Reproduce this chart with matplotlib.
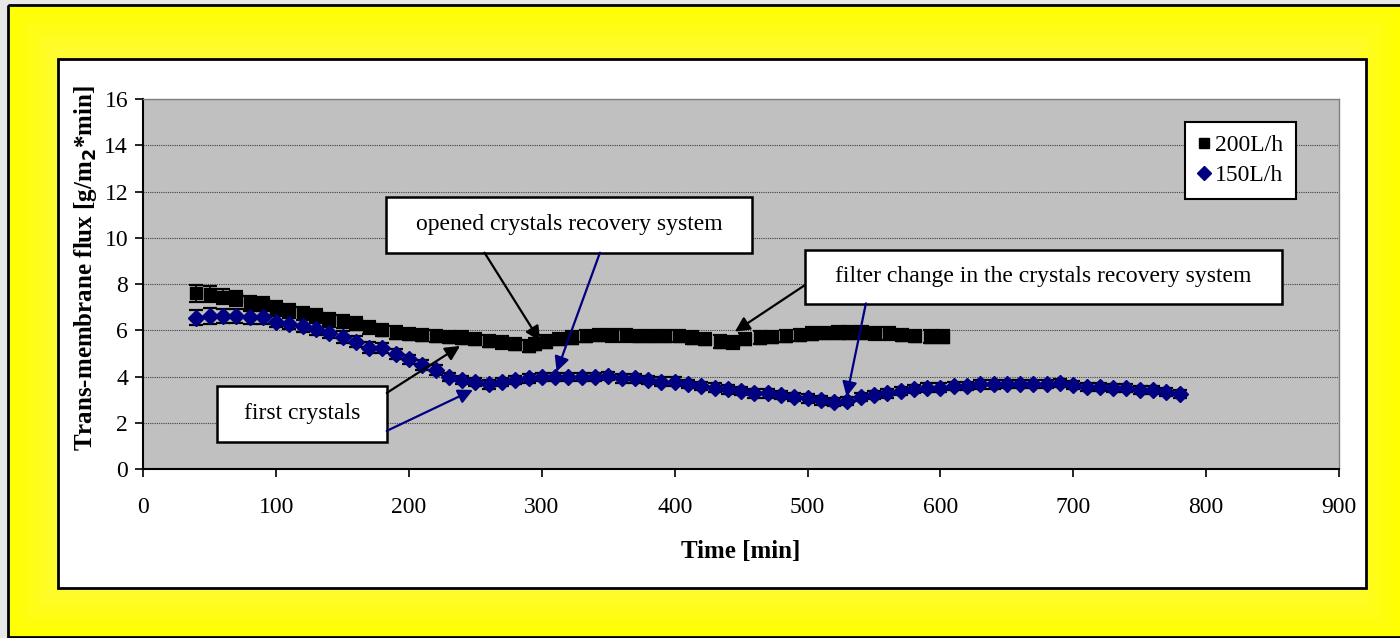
import numpy as np
import matplotlib
matplotlib.use("Agg")
import matplotlib.pyplot as plt
from matplotlib.patches import Rectangle
from matplotlib.lines import Line2D

plt.rcParams["font.family"] = ["Liberation Serif", "DejaVu Serif"]

# 200 L/h series
time_200 = [40, 50, 60, 70, 80, 90, 100, 110, 120, 130, 140, 150, 160, 170, 180,
            190, 200, 210, 220, 230, 240, 250, 260, 270, 280, 290, 295, 303, 313,
            323, 333, 343, 353, 363, 373, 383, 393, 403, 413, 423, 434, 444, 453,
            464, 473, 484, 494, 503, 513, 523, 531, 541, 551, 561, 571, 581, 592, 602]
flux_200 = [7.60, 7.59, 7.46, 7.39, 7.21, 7.14, 6.97, 6.85, 6.74, 6.63, 6.49, 6.39,
            6.30, 6.13, 6.03, 5.91, 5.84, 5.81, 5.77, 5.72, 5.69, 5.62, 5.55, 5.48,
            5.41, 5.33, 5.42, 5.52, 5.62, 5.69, 5.77, 5.81, 5.79, 5.79, 5.77, 5.77,
            5.77, 5.77, 5.69, 5.62, 5.52, 5.48, 5.62, 5.69, 5.72, 5.77, 5.81, 5.86,
            5.90, 5.91, 5.91, 5.91, 5.87, 5.87, 5.81, 5.77, 5.73, 5.73]
err_200 = [0.38, 0.35, 0.33, 0.33, 0.30, 0.30, 0.30, 0.28, 0.28, 0.28, 0.27, 0.27,
           0.27, 0.27, 0.27, 0.27, 0.27, 0.27, 0.27, 0.27, 0.27, 0.27, 0.27, 0.27,
           0.27, 0.27, 0.27, 0.27, 0.27, 0.27, 0.27, 0.27, 0.27, 0.27, 0.27, 0.27,
           0.27, 0.27, 0.27, 0.27, 0.27, 0.30, 0.27, 0.27, 0.27, 0.27, 0.27, 0.27,
           0.27, 0.27, 0.27, 0.27, 0.27, 0.27, 0.27, 0.27, 0.27, 0.27]

# 150 L/h series
time_150 = [40, 50, 60, 70, 80, 90, 100, 110, 120, 130, 140, 150, 160, 170, 180,
            190, 200, 210, 220, 230, 240, 250, 260, 270, 280, 290, 300, 310, 320,
            330, 340, 350, 360, 370, 380, 390, 400, 410, 420, 430, 440, 450, 460,
            470, 480, 490, 500, 510, 520, 530, 540, 550, 560, 570, 580, 590, 600,
            610, 620, 630, 640, 650, 660, 670, 680, 690, 700, 710, 720, 730, 740,
            750, 760, 770, 780]
flux_150 = [6.55, 6.63, 6.63, 6.63, 6.56, 6.56, 6.38, 6.30, 6.20, 6.06, 5.91, 5.72,
            5.52, 5.26, 5.23, 5.00, 4.76, 4.51, 4.29, 4.00, 3.86, 3.77, 3.67, 3.77,
            3.86, 3.93, 4.00, 4.00, 4.00, 3.98, 4.00, 4.02, 3.93, 3.93, 3.86, 3.79,
            3.79, 3.70, 3.60, 3.53, 3.45, 3.38, 3.28, 3.28, 3.21, 3.12, 3.06, 2.98,
            2.90, 2.95, 3.12, 3.21, 3.28, 3.38, 3.48, 3.53, 3.53, 3.60, 3.60, 3.67,
            3.67, 3.70, 3.70, 3.70, 3.70, 3.72, 3.64, 3.57, 3.57, 3.50, 3.50, 3.43,
            3.43, 3.33, 3.25]
err_150 = [0.33, 0.33, 0.30, 0.30, 0.28, 0.28, 0.25, 0.25, 0.25, 0.25, 0.25, 0.25,
           0.22, 0.22, 0.22, 0.22, 0.20, 0.20, 0.20, 0.18, 0.18, 0.18, 0.18, 0.18,
           0.18, 0.18, 0.18, 0.18, 0.18, 0.18, 0.18, 0.18, 0.18, 0.18, 0.18, 0.18,
           0.18, 0.18, 0.18, 0.18, 0.18, 0.18, 0.18, 0.18, 0.18, 0.18, 0.18, 0.18,
           0.18, 0.18, 0.18, 0.18, 0.18, 0.18, 0.18, 0.18, 0.18, 0.18, 0.18, 0.18,
           0.18, 0.18, 0.18, 0.18, 0.18, 0.18, 0.18, 0.18, 0.18, 0.18, 0.18, 0.18,
           0.18, 0.18, 0.18]

# annotation boxes: text, centre (x, y), width, height
notes = [
    ("opened crystals recovery system", (320.3, 10.57), 275.2, 2.42),
    ("filter change in the crystals recovery system", (677.5, 8.31), 359.0, 2.33),
    ("first crystals", (119.3, 2.39), 127.7, 2.41),
]
# arrows: start, tip, colour
arrows = [
    ((256.8, 9.36), (298.6, 5.54), "black"),
    ((343.7, 9.36), (311.1, 4.22), "#000080"),
    ((183.2, 3.30), (238.4, 5.33), "black"),
    ((183.2, 1.66), (248.1, 3.43), "#000080"),
    ((498.0, 7.96), (445.3, 5.95), "black"),
    ((543.9, 7.17), (529.4, 3.14), "#000080"),
]

fig = plt.figure(figsize=(14, 6.38), dpi=100, facecolor="#e8e8e8")

# yellow panel with soft gradient
bg = fig.add_axes([0, 0, 1, 1])
bg.set_xlim(0, 1400)
bg.set_ylim(638, 0)
bg.axis("off")
gx = np.linspace(0, 1, 300)
gy = np.linspace(0, 1, 140)
X, Y = np.meshgrid(gx, gy)
d = np.minimum(np.minimum(X, 1 - X) * 1400, np.minimum(Y, 1 - Y) * 632)
t = np.clip(d / 60.0, 0, 1)
img = np.dstack([np.ones_like(t), np.ones_like(t) - 0.02 * t, 0.25 * t])
bg.imshow(img, extent=(8, 1400, 637, 5), aspect="auto", zorder=0)
bg.add_patch(Rectangle((8, 5), 1400, 632, fill=False, edgecolor="black", lw=2, zorder=1))
bg.add_patch(Rectangle((58, 59), 1308, 529, facecolor="white", edgecolor="black", lw=2, zorder=2))

ax = fig.add_axes([0.1024, 0.2644, 0.854, 0.5804])
ax.set_facecolor("#c0c0c0")

ax.errorbar(time_200, flux_200, yerr=err_200, fmt="none", ecolor="black",
            elinewidth=1.2, capsize=5, capthick=1.6, zorder=3)
ax.plot(time_200, flux_200, "s", color="black", markersize=9, zorder=4)
ax.errorbar(time_150, flux_150, yerr=err_150, fmt="none", ecolor="black",
            elinewidth=1.2, capsize=5, capthick=1.6, zorder=5)
ax.plot(time_150, flux_150, "D", color="#000080", markersize=8.5, zorder=6)

ax.set_xlim(0, 900)
ax.set_ylim(0, 16)
ax.set_xticks(range(0, 901, 100))
ax.set_yticks(range(0, 17, 2))
ax.yaxis.grid(True, linestyle=(0, (1, 1)), color="#404040", linewidth=0.8)
ax.set_axisbelow(True)
ax.tick_params(labelsize=17, direction="out", length=6, width=1.2, color="black")
ax.tick_params(axis="x", pad=14)
ax.tick_params(axis="y", pad=5)
for s in ["left", "bottom"]:
    ax.spines[s].set_linewidth(1.5)
for s in ["top", "right"]:
    ax.spines[s].set_color("#808080")
    ax.spines[s].set_linewidth(1)

ax.set_xlabel("Time [min]", fontsize=18, fontweight="bold")
ax.set_ylabel("Trans-membrane flux [g/m$_\\mathbf{2}$*min]", fontsize=18, fontweight="bold")
ax.xaxis.set_label_coords(0.5, -0.192)
ax.yaxis.set_label_coords(-0.037, 0.544)

for txt, (cx, cy), w, h in notes:
    ax.add_patch(Rectangle((cx - w / 2, cy - h / 2), w, h, facecolor="white",
                           edgecolor="black", lw=1.8, zorder=8))
    ax.text(cx, cy, txt, ha="center", va="center", fontsize=17, zorder=9)

for start, tip, c in arrows:
    ax.annotate("", xy=tip, xytext=start, zorder=10,
                arrowprops=dict(arrowstyle="-|>", color=c, lw=1.6, mutation_scale=22,
                                shrinkA=0, shrinkB=0))

handles = [
    Line2D([], [], marker="s", color="black", linestyle="none", markersize=7),
    Line2D([], [], marker="D", color="#000080", linestyle="none", markersize=7),
]
leg = ax.legend(handles, ["200L/h", "150L/h"], loc="upper right",
                bbox_to_anchor=(0.964, 0.938), fontsize=17, frameon=True,
                fancybox=False, edgecolor="black", framealpha=1,
                handlelength=0.5, handletextpad=0.2, labelspacing=0.35,
                borderpad=0.55, borderaxespad=0)
leg.get_frame().set_linewidth(1.5)
leg.set_zorder(11)

fig.savefig("out.png", dpi=100, facecolor=fig.get_facecolor())
